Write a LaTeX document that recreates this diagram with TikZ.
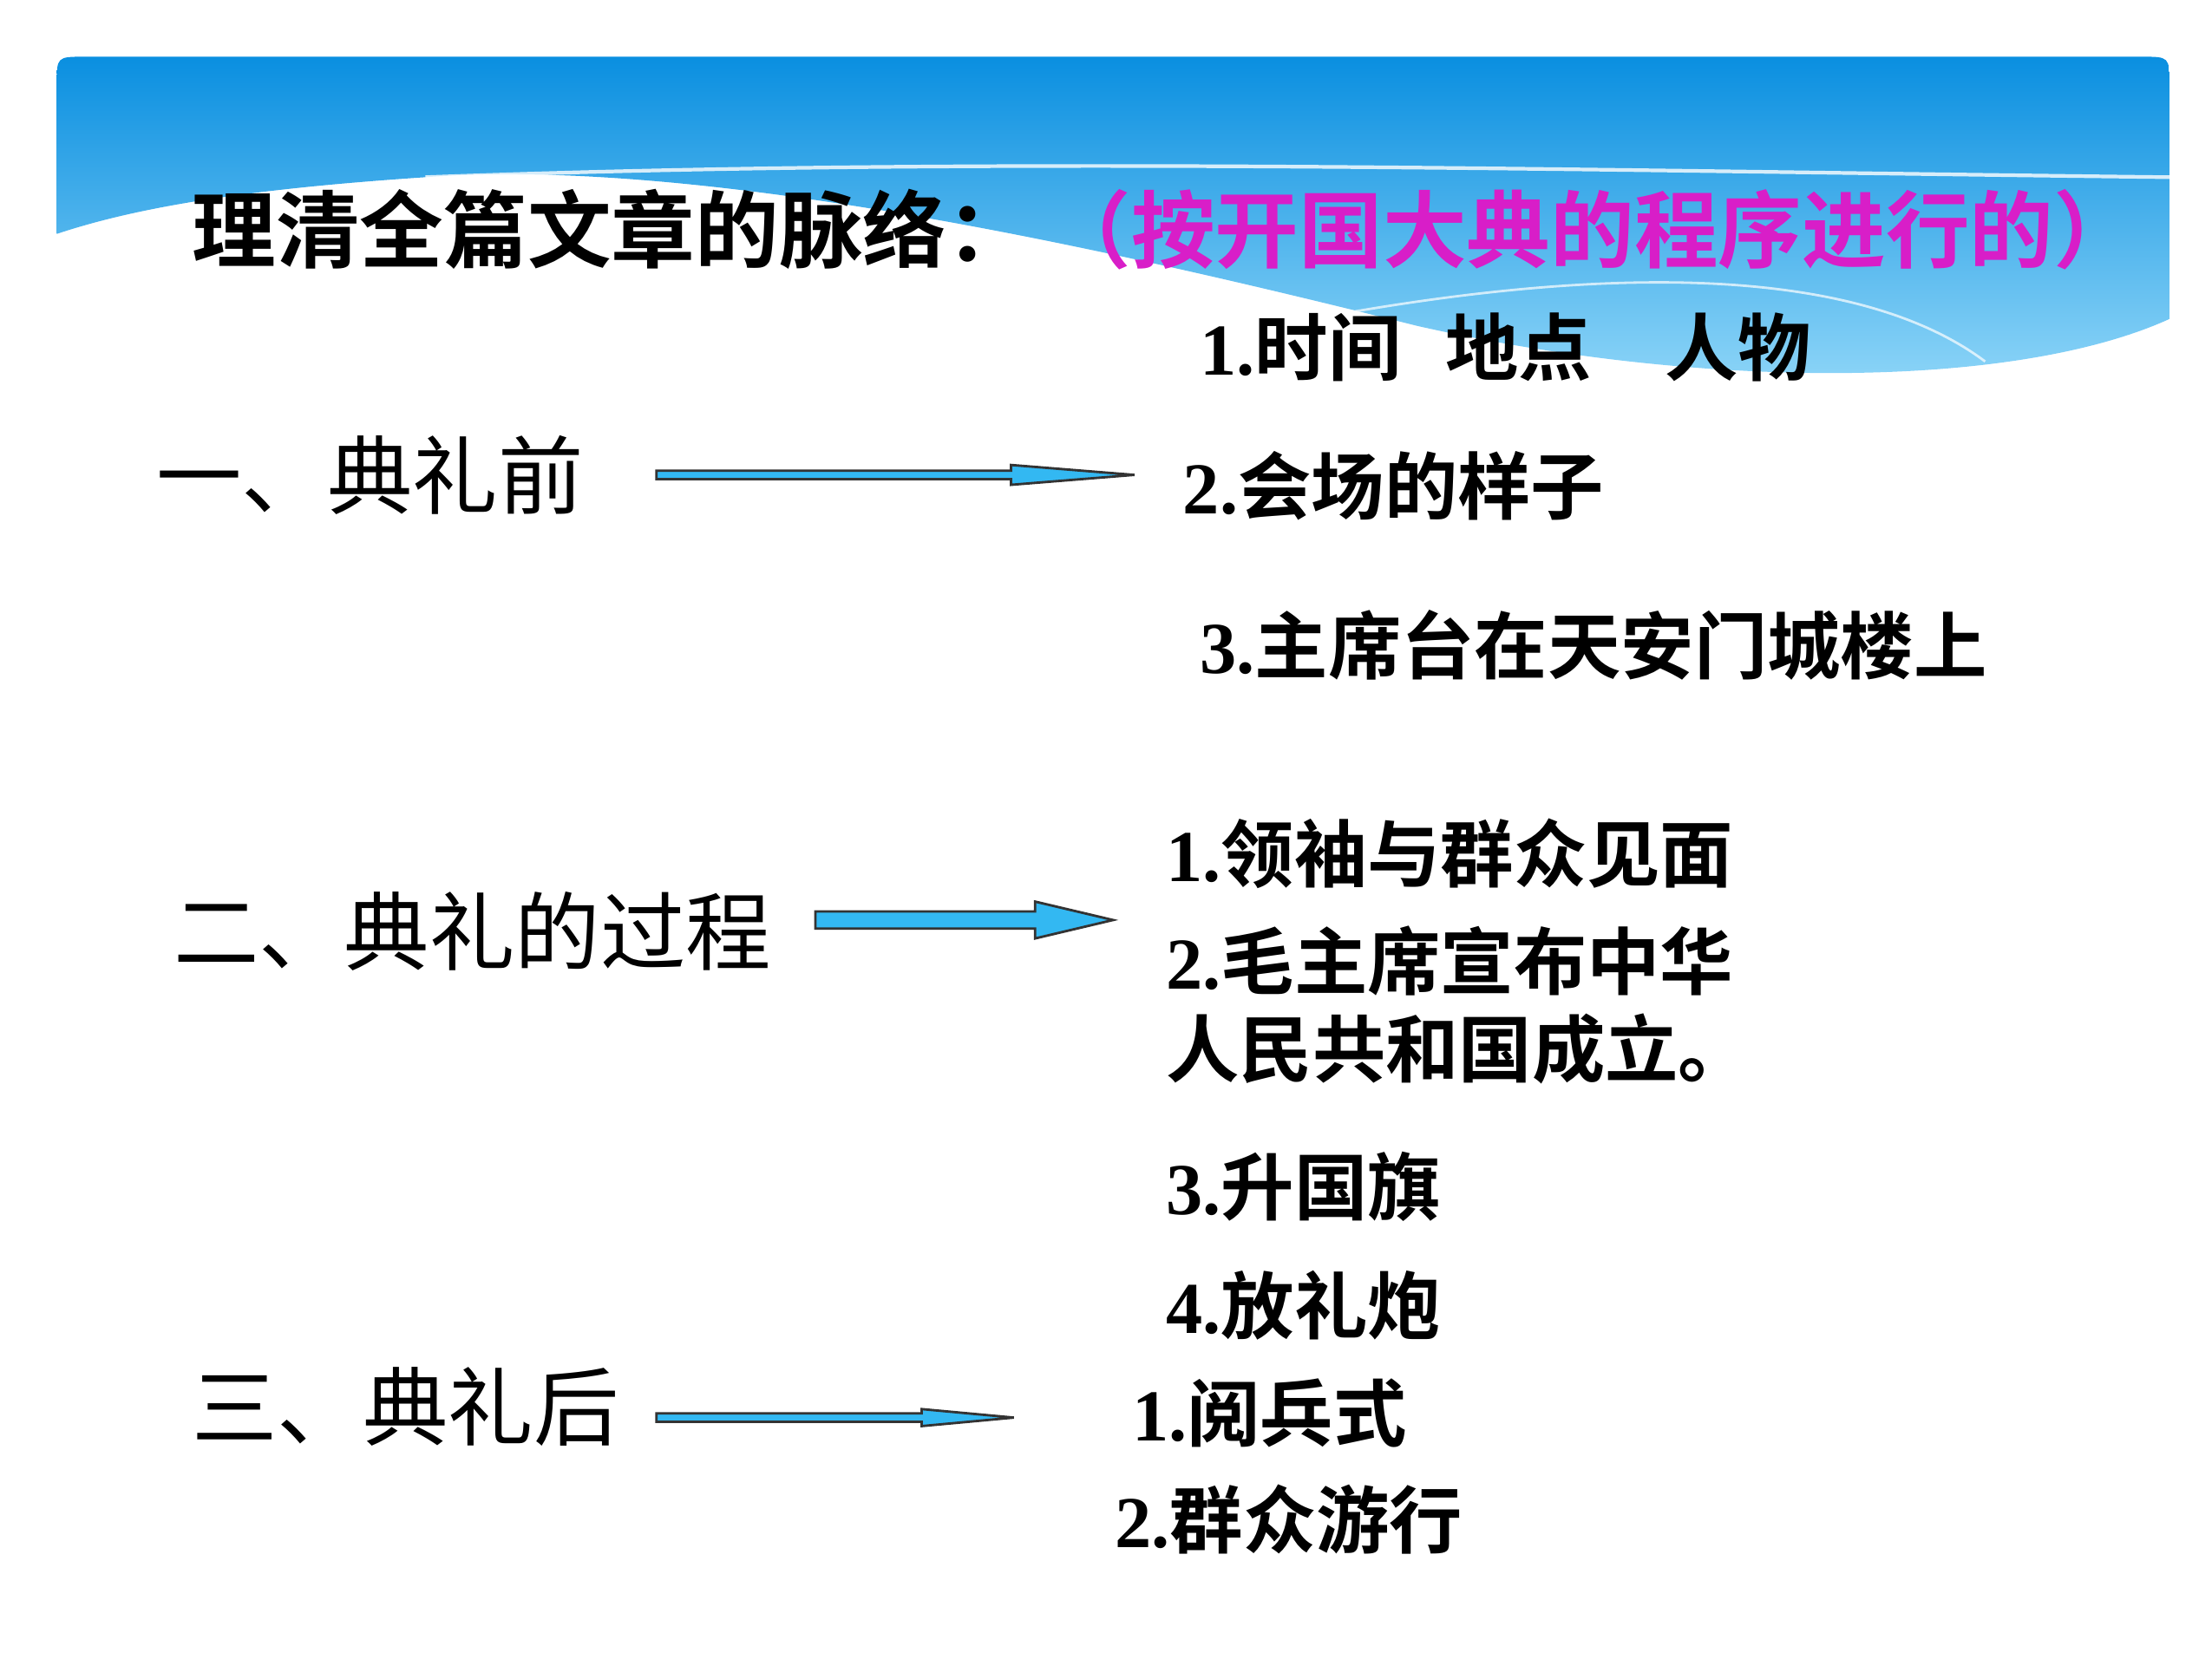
\documentclass[tikz,border=0pt]{standalone}
\usepackage{fontspec}
\setmainfont{Liberation Serif}
\newfontfamily\cjk{Noto Sans CJK SC}[BoldFont={* Bold}]
\usetikzlibrary{shadings}
\definecolor{arrowblue}{HTML}{33B8F2}
\definecolor{topblue}{HTML}{0A8FE0}
\definecolor{lowblue}{HTML}{8FD6F8}
\definecolor{mag}{HTML}{D81EC8}
\begin{document}
\begin{tikzpicture}[x=0.016346cm,y=-0.016346cm,
  t/.style={anchor=west,inner sep=0pt,font=\bfseries\fontsize{24pt}{28pt}\selectfont},
  sec/.style={anchor=west,inner sep=0pt,font=\cjk\fontsize{28pt}{32pt}\selectfont},
  arr/.style={draw=black!80,line width=0.8pt,fill=arrowblue}]
\useasboundingbox (0,0) rectangle (1560,1170);
% header band
\shade[top color=topblue,bottom color=lowblue]
  (40,165) -- (40,60) .. controls (40,40) .. (60,40) -- (1510,40)
  .. controls (1530,40) .. (1530,60) -- (1530,225)
  .. controls (1420,275) and (1200,275) .. (1000,230)
  .. controls (800,180) and (500,110) .. (300,125)
  .. controls (180,133) and (100,145) .. (40,165) -- cycle;
\draw[white,line width=1.2pt,opacity=0.8] (300,125) .. controls (700,110) and (1100,120) .. (1530,125);
\draw[white,line width=0.8pt,opacity=0.7] (900,230) .. controls (1100,190) and (1300,180) .. (1400,255);
\node[anchor=west,inner sep=0pt,font=\cjk\bfseries\fontsize{27.5pt}{30pt}\selectfont] (title) at (135,162)
  {理清全篇文章的脉络：\hspace{0.2em}\textcolor{mag}{（按开国大典的程序进行的）}};
% sections
\node[sec] (s1) at (110,335) {一、典礼前};
\node[sec] (s2) at (122,657) {二、典礼的过程};
\node[sec] (s3) at (135,992) {三、典礼后};
% arrows
\draw[arr] (463,332) -- (713,332) -- (713,328) -- (800,335) -- (713,342) -- (713,338) -- (463,338) -- cycle;
\draw[arr] (575,643) -- (730,643) -- (730,636) -- (785,649) -- (730,662) -- (730,655) -- (575,655) -- cycle;
\draw[arr] (463,997) -- (650,997) -- (650,994) -- (715,1000) -- (650,1006) -- (650,1003) -- (463,1003) -- cycle;
% items
\node[t] (i11) at (846,245) {1.{\cjk 时间\hspace{0.6em}地点\hspace{1em}人物}};
\node[t] (i12) at (834,343) {2.{\cjk 会场的样子}};
\node[t] (i13) at (846,455) {3.{\cjk 主席台在天安门城楼上}};
\node[t] (i21) at (822,602) {1.{\cjk 领袖与群众见面}};
\node[t] (i22) at (822,678) {2.{\cjk 毛主席宣布中华}};
\node[t] (i22b) at (822,740) {\cjk 人民共和国成立。};
\node[t] (i23) at (822,837) {3.{\cjk 升国旗}};
\node[t] (i24) at (822,921) {4.{\cjk 放礼炮}};
\node[t] (i31) at (798,997) {1.{\cjk 阅兵式}};
\node[t] (i32) at (786,1072) {2.{\cjk 群众游行}};
\end{tikzpicture}
\end{document}
